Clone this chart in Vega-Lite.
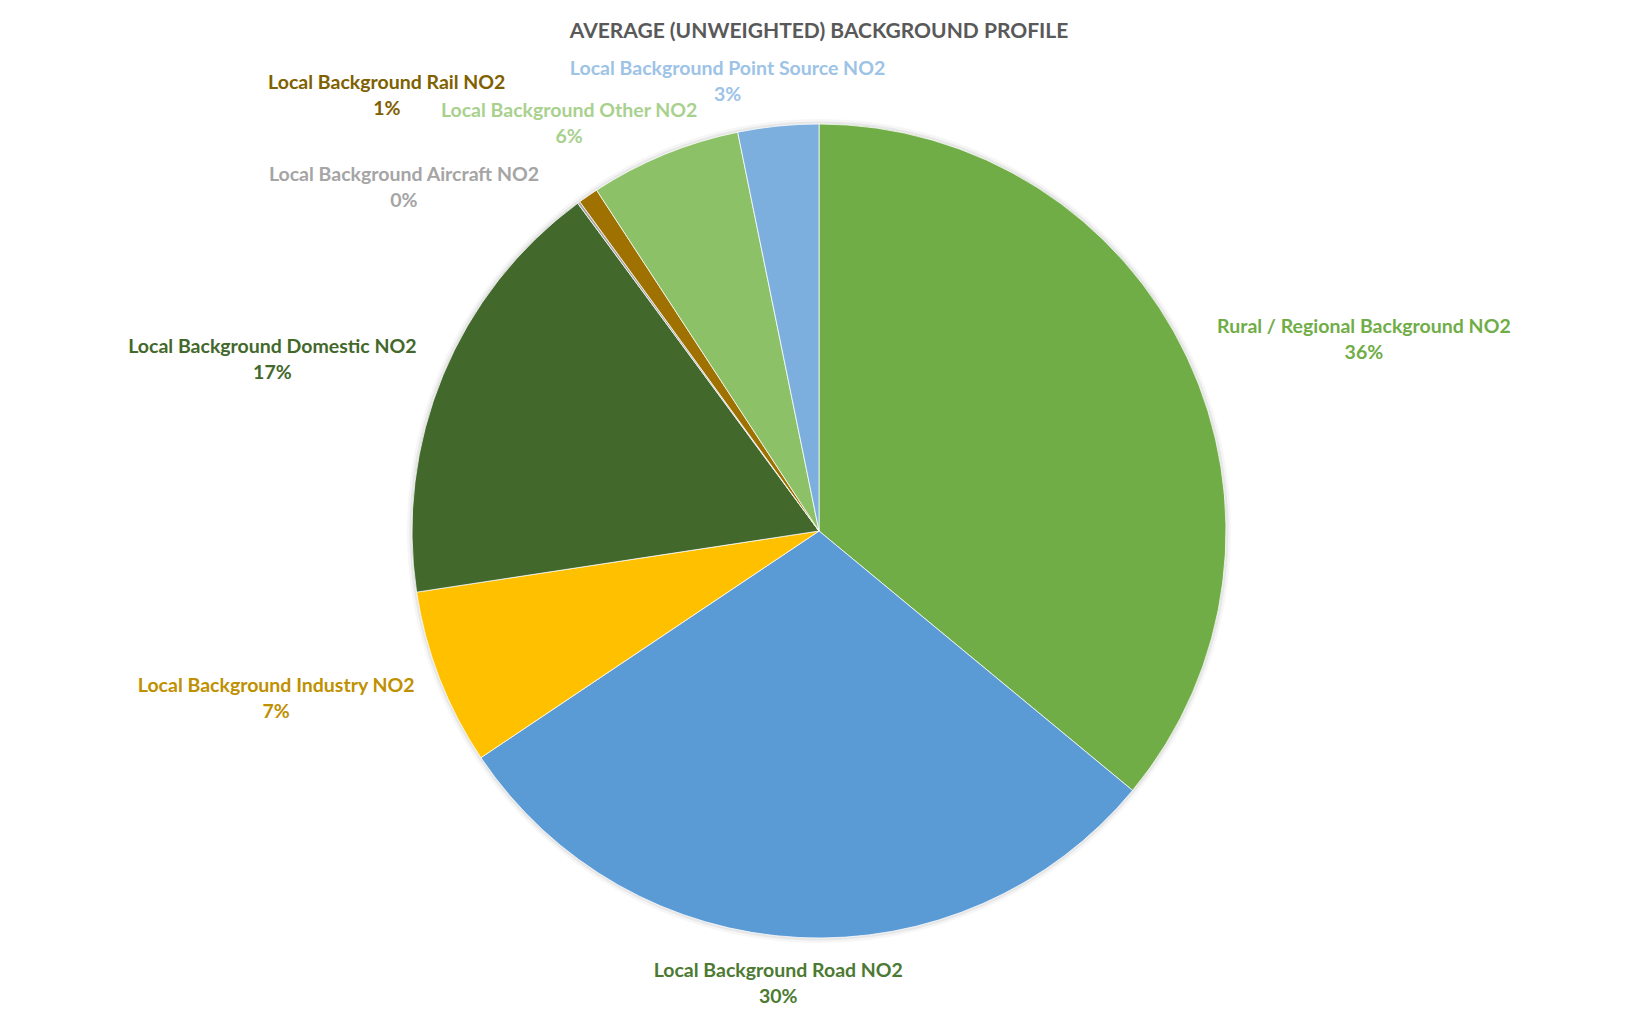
{
  "$schema": "https://vega.github.io/schema/vega-lite/v6.json",
  "width": 1638,
  "height": 964,
  "autosize": {"type": "none"},
  "padding": {"top": 49, "left": 0, "right": 0, "bottom": 2},
  "background": "white",
  "title": {
    "text": "AVERAGE (UNWEIGHTED) BACKGROUND PROFILE",
    "font": "Lato",
    "fontSize": 21,
    "fontWeight": "bold",
    "color": "#595959",
    "anchor": "middle",
    "baseline": "middle",
    "offset": -4
  },
  "data": {
    "values": [
      {"idx": 1, "source": "Rural / Regional Background NO2", "value": 36.0},
      {"idx": 2, "source": "Local Background Road NO2", "value": 29.6},
      {"idx": 3, "source": "Local Background Industry NO2", "value": 7.0},
      {"idx": 4, "source": "Local Background Domestic NO2", "value": 17.3},
      {"idx": 5, "source": "Local Background Aircraft NO2", "value": 0.1},
      {"idx": 6, "source": "Local Background Rail NO2", "value": 0.8},
      {"idx": 7, "source": "Local Background Other NO2", "value": 6.0},
      {"idx": 8, "source": "Local Background Point Source NO2", "value": 3.2}
    ]
  },
  "transform": [
    {"stack": "value", "groupby": [], "sort": [{"field": "idx", "order": "ascending"}], "as": ["v0", "v1"]},
    {"calculate": "(datum.v0 + datum.v1) / 2", "as": "mid"},
    {"calculate": "datum.source + '\\n' + format(datum.value, '.0f') + '%'", "as": "label"}
  ],
  "layer": [
    {
      "mark": {"type": "arc", "outerRadius": 412, "color": "#000000", "opacity": 0.035, "strokeWidth": 0},
      "encoding": {
        "theta": {"field": "v0", "type": "quantitative", "scale": {"domain": [0, 100]}},
        "theta2": {"field": "v1"}
      }
    },
    {
      "mark": {"type": "arc", "outerRadius": 409.5, "color": "#000000", "opacity": 0.06, "strokeWidth": 0},
      "encoding": {
        "theta": {"field": "v0", "type": "quantitative", "scale": {"domain": [0, 100]}},
        "theta2": {"field": "v1"}
      }
    },
    {
      "mark": {"type": "arc", "outerRadius": 407, "stroke": "#ffffff", "strokeWidth": 0.75},
      "encoding": {
        "theta": {"field": "v0", "type": "quantitative", "scale": {"domain": [0, 100]}},
        "theta2": {"field": "v1"},
        "color": {
          "field": "source",
          "type": "nominal",
          "legend": null,
          "scale": {
            "domain": ["Rural / Regional Background NO2", "Local Background Road NO2", "Local Background Industry NO2", "Local Background Domestic NO2", "Local Background Aircraft NO2", "Local Background Rail NO2", "Local Background Other NO2", "Local Background Point Source NO2"],
            "range": ["#70AD47", "#5B9BD5", "#FFC000", "#43682B", "#A5A5A5", "#9E7100", "#8CC168", "#7CAFDD"]
          }
        }
      }
    },
    {
      "transform": [{"filter": "datum.idx === 1"}],
      "mark": {"type": "text", "radius": 453, "dx": 135, "dy": -11, "align": "center", "baseline": "middle", "font": "Lato", "fontWeight": "bold", "fontSize": 19.5, "lineHeight": 26, "lineBreak": "\n", "color": "#70AD47"},
      "encoding": {"theta": {"field": "mid", "type": "quantitative"}, "text": {"field": "label"}}
    },
    {
      "transform": [{"filter": "datum.idx === 2"}],
      "mark": {"type": "text", "radius": 452, "dx": -18, "dy": -11, "align": "center", "baseline": "middle", "font": "Lato", "fontWeight": "bold", "fontSize": 19.5, "lineHeight": 26, "lineBreak": "\n", "color": "#4C7A32"},
      "encoding": {"theta": {"field": "mid", "type": "quantitative"}, "text": {"field": "label"}}
    },
    {
      "transform": [{"filter": "datum.idx === 3"}],
      "mark": {"type": "text", "radius": 459, "dx": -115, "dy": -11, "align": "center", "baseline": "middle", "font": "Lato", "fontWeight": "bold", "fontSize": 19.5, "lineHeight": 26, "lineBreak": "\n", "color": "#BF9000"},
      "encoding": {"theta": {"field": "mid", "type": "quantitative"}, "text": {"field": "label"}}
    },
    {
      "transform": [{"filter": "datum.idx === 4"}],
      "mark": {"type": "text", "radius": 452, "dx": -129, "dy": -11, "align": "center", "baseline": "middle", "font": "Lato", "fontWeight": "bold", "fontSize": 19.5, "lineHeight": 26, "lineBreak": "\n", "color": "#43682B"},
      "encoding": {"theta": {"field": "mid", "type": "quantitative"}, "text": {"field": "label"}}
    },
    {
      "transform": [{"filter": "datum.idx === 5"}],
      "mark": {"type": "text", "radius": 427, "dx": -163, "dy": -11, "align": "center", "baseline": "middle", "font": "Lato", "fontWeight": "bold", "fontSize": 19.5, "lineHeight": 26, "lineBreak": "\n", "color": "#A5A5A5"},
      "encoding": {"theta": {"field": "mid", "type": "quantitative"}, "text": {"field": "label"}}
    },
    {
      "transform": [{"filter": "datum.idx === 6"}],
      "mark": {"type": "text", "radius": 531, "dx": -131, "dy": -11, "align": "center", "baseline": "middle", "font": "Lato", "fontWeight": "bold", "fontSize": 19.5, "lineHeight": 26, "lineBreak": "\n", "color": "#7F6000"},
      "encoding": {"theta": {"field": "mid", "type": "quantitative"}, "text": {"field": "label"}}
    },
    {
      "transform": [{"filter": "datum.idx === 7"}],
      "mark": {"type": "text", "radius": 442, "dx": -82, "dy": -11, "align": "center", "baseline": "middle", "font": "Lato", "fontWeight": "bold", "fontSize": 19.5, "lineHeight": 26, "lineBreak": "\n", "color": "#A9D18E"},
      "encoding": {"theta": {"field": "mid", "type": "quantitative"}, "text": {"field": "label"}}
    },
    {
      "transform": [{"filter": "datum.idx === 8"}],
      "mark": {"type": "text", "radius": 453, "dx": -46, "dy": -11, "align": "center", "baseline": "middle", "font": "Lato", "fontWeight": "bold", "fontSize": 19.5, "lineHeight": 26, "lineBreak": "\n", "color": "#9DC3E6"},
      "encoding": {"theta": {"field": "mid", "type": "quantitative"}, "text": {"field": "label"}}
    }
  ],
  "config": {"view": {"stroke": null}}
}
